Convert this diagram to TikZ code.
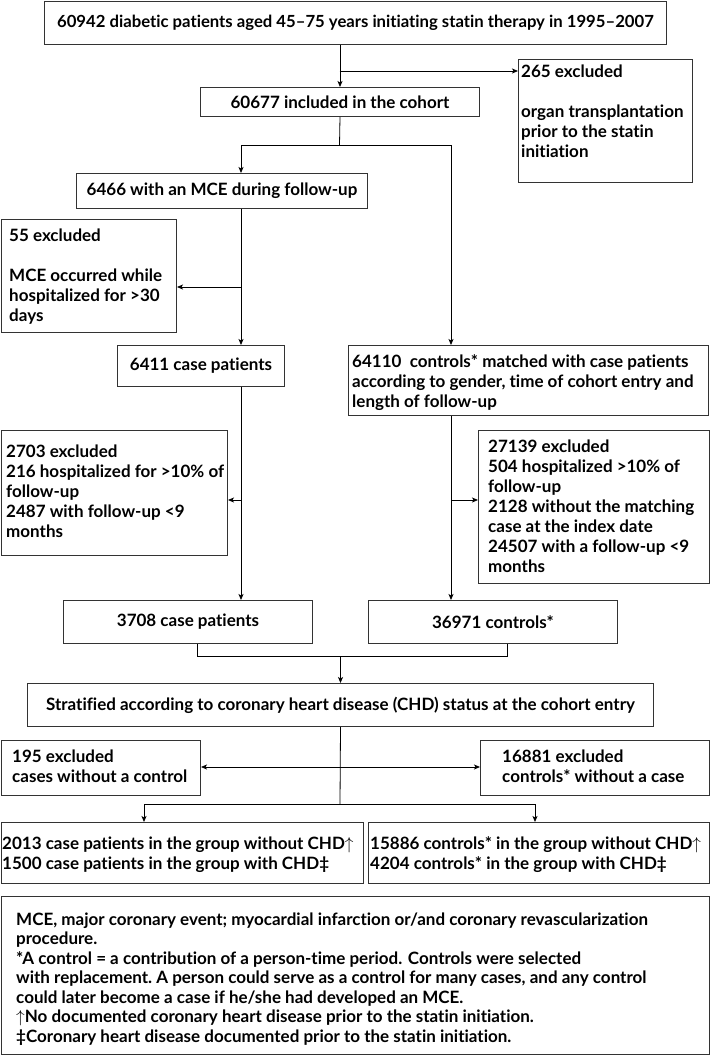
\documentclass[tikz,border=0pt]{standalone}
\usepackage{fontspec}
\setmainfont{Lato}[Ligatures={NoCommon,NoRare}]
\usetikzlibrary{arrows.meta}
\newcommand\fst{\rule{0pt}{14pt}}
\begin{document}
\begin{tikzpicture}[x=1pt,y=-1pt,
  box/.style={draw=black!80, line width=1pt, inner sep=0pt, anchor=north west, font=\bfseries\fontsize{17}{20}\selectfont},
  txt/.style={anchor=north west, inner sep=0pt, align=left, font=\bfseries\fontsize{17}{20}\selectfont},
  conn/.style={draw=black, line width=0.8pt},
  arr/.style={conn, -{Stealth[length=6pt,width=5pt,inset=1.5pt]}},
  barr/.style={conn, {Stealth[length=6pt,width=5pt,inset=1.5pt]}-{Stealth[length=6pt,width=5pt,inset=1.5pt]}}
]
\useasboundingbox (0,0) rectangle (710,1055);
\fill[white] (0,0) rectangle (710,1055);

\node[box, minimum width=622pt, minimum height=43pt, font=\bfseries\fontsize{16.7}{20}\selectfont] (b1) at (44,0.5) {60942 diabetic patients aged 45--75 years initiating statin therapy in 1995--2007};
\node[box, minimum width=279pt, minimum height=29pt] (b2) at (200,87) {60677 included in the cohort};
\node[box, minimum width=174pt, minimum height=123pt] (ex1) at (518,59) {};
\node[txt] (t1) at (521,63) {\fst 265 excluded\\[20pt]organ transplantation\\prior to the statin\\initiation};
\node[box, minimum width=291pt, minimum height=35pt] (b3) at (76,173) {6466 with an MCE during follow-up};
\node[box, minimum width=175pt, minimum height=113pt] (ex2) at (1,219) {};
\node[txt] (t2) at (9,227) {\fst 55 excluded\\[20pt]MCE occurred while\\hospitalized for >30\\days};
\node[box, minimum width=167pt, minimum height=41pt] (b4) at (117,345) {6411 case patients};
\node[box, minimum width=360pt, minimum height=70pt] (b5) at (348,345) {};
\node[txt] (t5) at (352,353) {\fst 64110\ \ controls* matched with case patients\\according to gender, time of cohort entry and\\length of follow-up};
\node[box, minimum width=226pt, minimum height=125pt] (ex3) at (1,430) {};
\node[txt] (t3) at (6,443) {\fst 2703 excluded\\216 hospitalized for >10\% of\\follow-up\\2487 with follow-up <9\\months};
\node[box, minimum width=231pt, minimum height=153pt] (ex4) at (478,430) {};
\node[txt] (t4) at (488,438) {\fst 27139 excluded\\504 hospitalized >10\% of\\follow-up\\2128 without the matching\\case at the index date\\24507 with a follow-up <9\\months};
\node[box, minimum width=249pt, minimum height=43pt] (b6) at (63,600) {3708 case patients};
\node[box, minimum width=249pt, minimum height=43pt] (b7) at (368,600) {36971 controls*};
\node[box, minimum width=626pt, minimum height=43pt] (b8) at (27,683) {Stratified according to coronary heart disease (CHD) status at the cohort entry};
\node[box, minimum width=199pt, minimum height=55pt] (ex5) at (1,740) {};
\node[txt] (t5b) at (12,748) {\fst 195 excluded\\cases without a control};
\node[box, minimum width=229pt, minimum height=55pt] (ex6) at (480,740) {};
\node[txt] (t6) at (502,748) {\fst 16881 excluded\\controls* without a case};
\node[box, minimum width=362pt, minimum height=61pt] (b9) at (1,822) {};
\node[txt] (t9) at (2,835) {\fst 2013 case patients in the group without CHD$\uparrow$\\1500 case patients in the group with CHD‡};
\node[box, minimum width=341pt, minimum height=61pt] (b10) at (368,822) {};
\node[txt] (t10) at (370,835) {\fst 15886 controls* in the group without CHD$\uparrow$\\4204 controls* in the group with CHD‡};
\node[box, minimum width=708pt, minimum height=158pt] (b11) at (1,896) {};
\node[txt, font=\bfseries\fontsize{17}{19.5}\selectfont] (t11) at (16,911) {\fst MCE, major coronary event; myocardial infarction or/and coronary revascularization\\procedure.\\*A control = a contribution of a person-time period. Controls were selected\\with replacement.\ A person could serve as a control for many cases, and any control\\could later become a case if he/she had developed an MCE.\\$\uparrow$No documented coronary heart disease prior to the statin initiation.\\‡Coronary heart disease documented prior to the statin initiation.};

\coordinate (c1) at (339.5,71);
\draw[arr] (b1.south -| b2.north) -- (b2.north);
\draw[arr] (c1) -- (c1 -| ex1.west);
\coordinate (c2) at (339.5,145);
\coordinate (cL) at (241,145);
\coordinate (cR) at (451,145);
\draw[conn] (b2.south) -- (c2);
\draw[conn] (cL) -- (cR);
\draw[arr] (cL) -- (cL |- b3.north);
\draw[arr] (cR) -- (cR |- b5.north);
\draw[arr] (cL |- b3.south) -- (cL |- b4.north);
\coordinate (c3) at (241,287);
\draw[arr] (c3) -- (c3 -| ex2.east);
\draw[arr] (cL |- b4.south) -- (cL |- b6.north);
\coordinate (c4) at (241,500);
\draw[arr] (c4) -- (c4 -| ex3.east);
\draw[arr] (cR |- b5.south) -- (cR |- b7.north);
\coordinate (c5) at (451,500);
\draw[arr] (c5) -- (c5 -| ex4.west);
\coordinate (j1) at (197,656);
\coordinate (j2) at (507,656);
\draw[conn] (j1 |- b6.south) -- (j1) -- (j2) -- (j2 |- b7.south);
\draw[arr] (b8.north |- j1) -- (b8.north);
\coordinate (j3) at (340,804);
\draw[conn] (b8.south) -- (j3);
\coordinate (c6) at (340,767);
\draw[barr] (c6 -| ex5.east) -- (c6 -| ex6.west);
\coordinate (j4) at (144,804);
\coordinate (j5) at (535,804);
\draw[conn] (j4) -- (j5);
\draw[arr] (j4) -- (j4 |- b9.north);
\draw[arr] (j5) -- (j5 |- b10.north);
\end{tikzpicture}
\end{document}
